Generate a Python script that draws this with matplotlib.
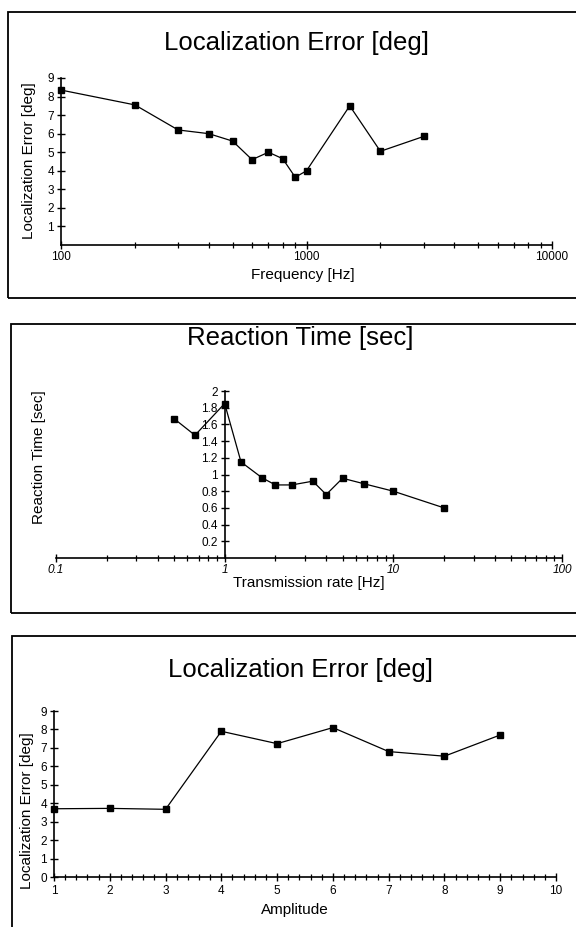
import matplotlib
matplotlib.use("Agg")
import matplotlib.pyplot as plt
from matplotlib.patches import Rectangle
from matplotlib.ticker import LogLocator, NullFormatter, MultipleLocator

plt.rcParams['font.family'] = ['Liberation Sans', 'DejaVu Sans']

# ---------------------------- data ---------------------------------------- #
freq_hz = [100, 200, 300, 400, 500, 600, 700, 800, 900, 1000, 1500, 2000, 3000]
freq_err = [8.35, 7.55, 6.2, 6.0, 5.6, 4.6, 5.0, 4.65, 3.65, 4.0, 7.5, 5.05, 5.85]

rate_hz = [0.5, 0.667, 1, 1.25, 1.667, 2, 2.5, 3.33, 4, 5, 6.67, 10, 20]
react_t = [1.67, 1.47, 1.85, 1.15, 0.96, 0.875, 0.875, 0.92, 0.76, 0.955, 0.89, 0.80, 0.60]

amp = [1, 2, 3, 4, 5, 6, 7, 8, 9]
amp_err = [3.7, 3.72, 3.67, 7.9, 7.23, 8.1, 6.8, 6.55, 7.7]

W, H = 576, 927


def fx(px):
    return px / W


def fy(py):
    return 1 - py / H


def base_style(ax):
    ax.spines["top"].set_visible(False)
    ax.spines["right"].set_visible(False)
    for s in ("left", "bottom"):
        ax.spines[s].set_linewidth(1.2)
    ax.tick_params(which="major", direction="inout", length=6, width=1.0,
                   labelsize=8.5, colors="black")
    ax.tick_params(which="minor", direction="inout", length=4, width=0.9)
    ax.tick_params(axis="x", which="major", pad=1)
    ax.tick_params(axis="y", which="major", pad=2)
    ax.set_facecolor("none")


def frame(x0, y0, y1):
    r = Rectangle((fx(x0), fy(y1)), fx(W + 20) - fx(x0), fy(y0) - fy(y1),
                  transform=fig.transFigure, fill=False, lw=1.3,
                  edgecolor="black", clip_on=False)
    fig.patches.append(r)


fig = plt.figure(figsize=(W / 100, H / 100), dpi=100)

# ---------------------------- panel 1 ------------------------------------- #
frame(8, 12, 298)
ax1 = fig.add_axes([fx(61), fy(245), fx(552) - fx(61), fy(78) - fy(245)])
base_style(ax1)
ax1.set_xscale("log")
ax1.set_xlim(100, 10000)
ax1.set_ylim(0, 9)
ax1.set_xticks([100, 1000, 10000], ["100", "1000", "10000"])
ax1.xaxis.set_minor_locator(LogLocator(base=10, subs=range(2, 10)))
ax1.xaxis.set_minor_formatter(NullFormatter())
ax1.set_yticks(range(1, 10))
ax1.plot(freq_hz, freq_err, color="black", lw=0.9, marker="s", ms=5,
         clip_on=False)
fig.text(fx(297), fy(43), "Localization Error [deg]", fontsize=18.5,
         ha="center", va="center")
fig.text(fx(303), fy(275), "Frequency [Hz]", fontsize=11, ha="center", va="center")
fig.text(fx(29), fy(161), "Localization Error [deg]", fontsize=11,
         rotation=90, ha="center", va="center")

# ---------------------------- panel 2 ------------------------------------- #
frame(11, 324, 613)
ax2 = fig.add_axes([fx(56), fy(558), fx(562) - fx(56), fy(391) - fy(558)])
base_style(ax2)
ax2.set_xscale("log")
ax2.set_xlim(0.1, 100)
ax2.set_ylim(0, 2)
ax2.spines["left"].set_position(("data", 1))
ax2.set_xticks([0.1, 1, 10, 100], ["0.1", "1", "10", "100"])
for t in ax2.get_xticklabels():
    t.set_style("italic")
ax2.xaxis.set_minor_locator(LogLocator(base=10, subs=range(2, 10)))
ax2.xaxis.set_minor_formatter(NullFormatter())
yt = [0.2, 0.4, 0.6, 0.8, 1.0, 1.2, 1.4, 1.6, 1.8, 2.0]
ax2.set_yticks(yt, ["0.2", "0.4", "0.6", "0.8", "1", "1.2", "1.4", "1.6", "1.8", "2"])
ax2.plot(rate_hz, react_t, color="black", lw=0.9, marker="s", ms=5,
         clip_on=False)
fig.text(fx(300), fy(338), "Reaction Time [sec]", fontsize=18.5,
         ha="center", va="center")
fig.text(fx(309), fy(583), "Transmission rate [Hz]", fontsize=11,
         ha="center", va="center")
fig.text(fx(39), fy(457), "Reaction Time [sec]", fontsize=11,
         rotation=90, ha="center", va="center")

# ---------------------------- panel 3 ------------------------------------- #
frame(12, 636, H + 20)
ax3 = fig.add_axes([fx(54), fy(877), fx(556) - fx(54), fy(711) - fy(877)])
base_style(ax3)
ax3.set_xlim(1, 10)
ax3.set_ylim(0, 9)
ax3.set_xticks(range(1, 11))
ax3.xaxis.set_minor_locator(MultipleLocator(0.2))
ax3.set_yticks(range(0, 10))
ax3.tick_params(axis="x", which="major", pad=3)
ax3.plot(amp, amp_err, color="black", lw=0.9, marker="s", ms=5, clip_on=False)
fig.text(fx(300), fy(670), "Localization Error [deg]", fontsize=18.5,
         ha="center", va="center")
fig.text(fx(295), fy(910), "Amplitude", fontsize=11, ha="center", va="center")
fig.text(fx(27), fy(811), "Localization Error [deg]", fontsize=11,
         rotation=90, ha="center", va="center")

fig.savefig("out.png", dpi=100)
